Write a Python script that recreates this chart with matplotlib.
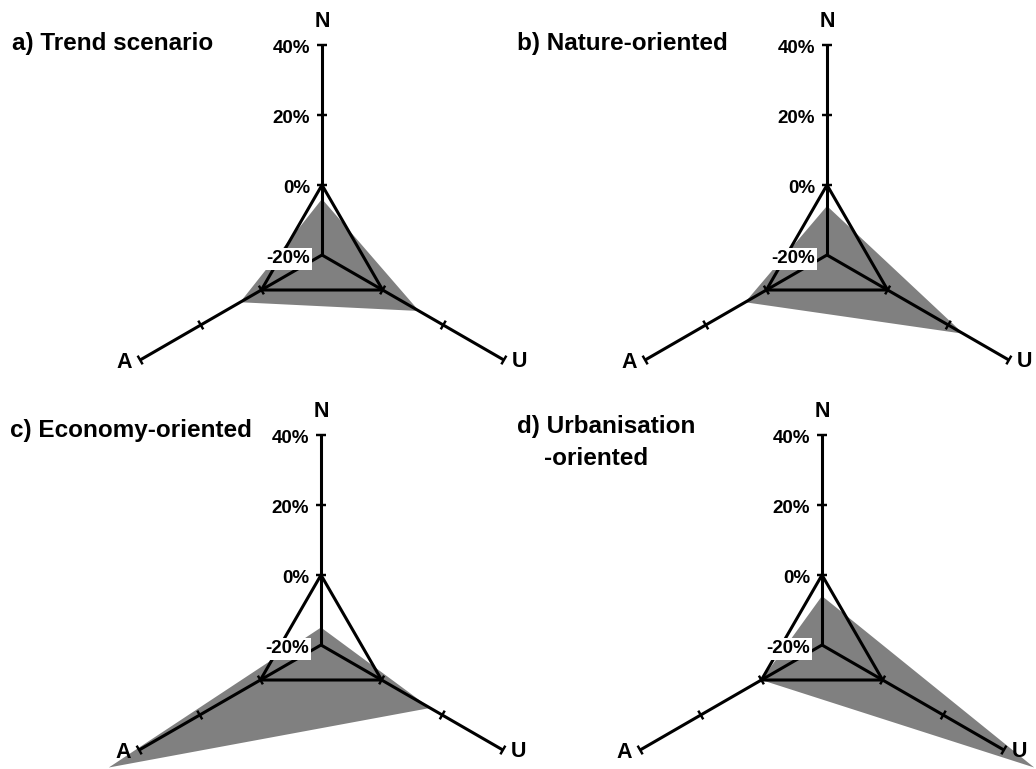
import numpy as np
import matplotlib
matplotlib.use("Agg")
import matplotlib.pyplot as plt

plt.rcParams['font.family'] = ['Liberation Sans', 'DejaVu Sans']

# ---------------- data ----------------
panel_titles = ["a) Trend scenario", "b) Nature-oriented",
                "c) Economy-oriented", "d) Urbanisation"]
title_second_line = ["", "", "", "-oriented"]
axis_names = ["N", "A", "U"]
n_change = [-4, -6, -15, -6]     # % change on N axis
a_change = [7, 7, 50, 0]         # % change on A axis
u_change = [12, 25, 16, 50]      # % change on U axis
n_tick_values = [-20, 0, 20, 40]
n_tick_labels = ["-20%", "0%", "20%", "40%"]
axis_tick_values = [0, 20, 40]
r_min, r_max = -20, 40

# ---------------- layout ----------------
W, H, DPI = 1036, 769, 100
fig = plt.figure(figsize=(W / DPI, H / DPI), dpi=DPI)
axis_angles = [90, 210, 330]
centers = [(322, 255), (827, 255), (321, 645), (822, 645)]
title_pos = [(12, 50), (517, 50), (10, 437), (517, 433)]
second_line_pos = [None, None, None, (544, 465)]
scale = 3.5            # px per percent unit
L, B, T = 72, 42, 76   # axes extents in data units
LW = 2.2
GRAY = '#808080'


def pol(val, ang):
    r = val - r_min
    a = np.deg2rad(ang)
    return r * np.cos(a), r * np.sin(a)


for i in range(4):
    cx, cy = centers[i]
    ax = fig.add_axes([(cx - L * scale) / W, (H - cy - B * scale) / H,
                       2 * L * scale / W, (B + T) * scale / H])
    ax.set_xlim(-L, L)
    ax.set_ylim(-B, T)
    ax.axis('off')

    # scenario polygon
    vals = [n_change[i], a_change[i], u_change[i]]
    pts = [pol(v, a) for v, a in zip(vals, axis_angles)]
    ax.fill([p[0] for p in pts], [p[1] for p in pts], color=GRAY, lw=0,
            zorder=1, clip_on=False)

    # axes with ticks
    hl = 5 / scale
    for ang in axis_angles:
        x0, y0 = pol(r_min, ang)
        x1, y1 = pol(r_max, ang)
        ax.plot([x0, x1], [y0, y1], color='k', lw=LW, zorder=2,
                solid_capstyle='butt', clip_on=False)
        a = np.deg2rad(ang)
        px, py = -np.sin(a), np.cos(a)
        for tv in axis_tick_values:
            tx, ty = pol(tv, ang)
            ax.plot([tx - px * hl, tx + px * hl], [ty - py * hl, ty + py * hl],
                    color='k', lw=LW * 0.8, zorder=2, solid_capstyle='butt',
                    clip_on=False)

    # zero triangle
    tri = [pol(0, a) for a in axis_angles]
    tri.append(tri[0])
    ax.plot([p[0] for p in tri], [p[1] for p in tri], color='k', lw=LW,
            zorder=2, solid_joinstyle='miter', clip_on=False)

    # N-axis tick labels
    for tv, tl in zip(n_tick_values, n_tick_labels):
        _, ty = pol(tv, 90)
        kw = {}
        if tv == r_min:
            kw['bbox'] = dict(boxstyle='square,pad=0.12', fc='white', ec='none')
        ax.text(-12 / scale, ty - 8.3 / scale, tl, ha='right', va='baseline',
                fontsize=13.5, fontweight='bold', zorder=4, **kw)

    # axis names
    nx, ny = pol(r_max, 90)
    ax.text(nx, ny + 18.3 / scale, axis_names[0], ha='center', va='baseline',
            fontsize=15.5, fontweight='bold', zorder=4)
    axx, axy = pol(r_max, 210)
    ax.text(axx - 8 / scale, axy - 8.3 / scale, axis_names[1], ha='right',
            va='baseline', fontsize=15.5, fontweight='bold', zorder=4)
    ux, uy = pol(r_max, 330)
    ax.text(ux + 8 / scale, uy - 7 / scale, axis_names[2], ha='left',
            va='baseline', fontsize=15.5, fontweight='bold', zorder=4)

    # titles
    tx, ty = title_pos[i]
    fig.text(tx / W, 1 - ty / H, panel_titles[i], ha='left', va='baseline',
             fontsize=17.5, fontweight='bold')
    if title_second_line[i]:
        sx, sy = second_line_pos[i]
        fig.text(sx / W, 1 - sy / H, title_second_line[i], ha='left',
                 va='baseline', fontsize=17.5, fontweight='bold')

fig.savefig("out.png", dpi=DPI, facecolor='white')
